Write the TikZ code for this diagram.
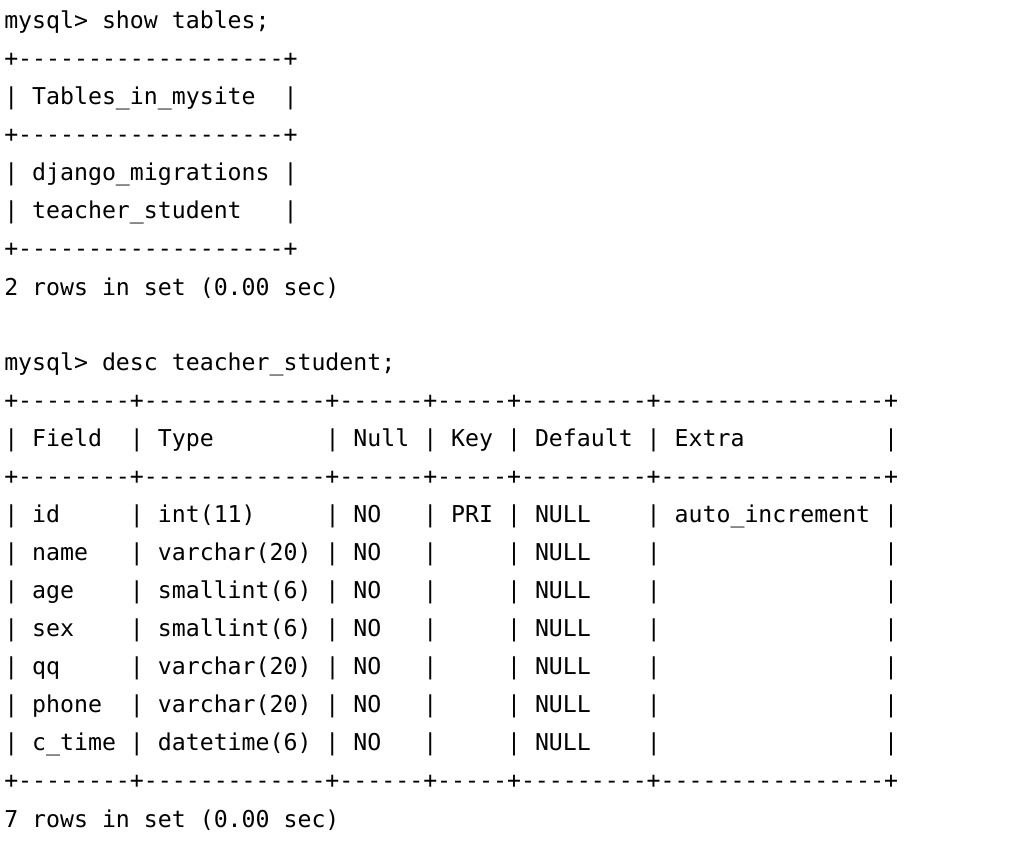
\documentclass[tikz,border=0pt]{standalone}
\usepackage{fontspec}
\setmonofont{DejaVu Sans Mono}
\usetikzlibrary{positioning}
\tikzstyle{line}=[anchor=west, inner sep=0pt, font=\ttfamily\fontsize{17.4pt}{20pt}\selectfont]

\begin{document}
\begin{tikzpicture}[x=0.75pt, y=-0.75pt]
		\useasboundingbox (0,0) rectangle (1018,858);

		\node[style=line] (l0) at (4, 22) {mysql>~show~tables;};
		\node[style=line] (l1) at (4, 60) {+-------------------+};
		\node[style=line] (l2) at (4, 98) {|~Tables\_in\_mysite~~|};
		\node[style=line] (l3) at (4, 136) {+-------------------+};
		\node[style=line] (l4) at (4, 174) {|~django\_migrations~|};
		\node[style=line] (l5) at (4, 212) {|~teacher\_student~~~|};
		\node[style=line] (l6) at (4, 250) {+-------------------+};
		\node[style=line] (l7) at (4, 288) {2~rows~in~set~(0.00~sec)};

		\node[style=line] (l9) at (4, 364) {mysql>~desc~teacher\_student;};
		\node[style=line] (l10) at (4, 402) {+--------+-------------+------+-----+---------+----------------+};
		\node[style=line] (l11) at (4, 440) {|~Field~~|~Type~~~~~~~~|~Null~|~Key~|~Default~|~Extra~~~~~~~~~~|};
		\node[style=line] (l12) at (4, 478) {+--------+-------------+------+-----+---------+----------------+};
		\node[style=line] (l13) at (4, 516) {|~id~~~~~|~int(11)~~~~~|~NO~~~|~PRI~|~NULL~~~~|~auto\_increment~|};
		\node[style=line] (l14) at (4, 554) {|~name~~~|~varchar(20)~|~NO~~~|~~~~~|~NULL~~~~|~~~~~~~~~~~~~~~~|};
		\node[style=line] (l15) at (4, 592) {|~age~~~~|~smallint(6)~|~NO~~~|~~~~~|~NULL~~~~|~~~~~~~~~~~~~~~~|};
		\node[style=line] (l16) at (4, 630) {|~sex~~~~|~smallint(6)~|~NO~~~|~~~~~|~NULL~~~~|~~~~~~~~~~~~~~~~|};
		\node[style=line] (l17) at (4, 668) {|~qq~~~~~|~varchar(20)~|~NO~~~|~~~~~|~NULL~~~~|~~~~~~~~~~~~~~~~|};
		\node[style=line] (l18) at (4, 706) {|~phone~~|~varchar(20)~|~NO~~~|~~~~~|~NULL~~~~|~~~~~~~~~~~~~~~~|};
		\node[style=line] (l19) at (4, 744) {|~c\_time~|~datetime(6)~|~NO~~~|~~~~~|~NULL~~~~|~~~~~~~~~~~~~~~~|};
		\node[style=line] (l20) at (4, 782) {+--------+-------------+------+-----+---------+----------------+};
		\node[style=line] (l21) at (4, 820) {7~rows~in~set~(0.00~sec)};
	\end{tikzpicture}
\end{document}
